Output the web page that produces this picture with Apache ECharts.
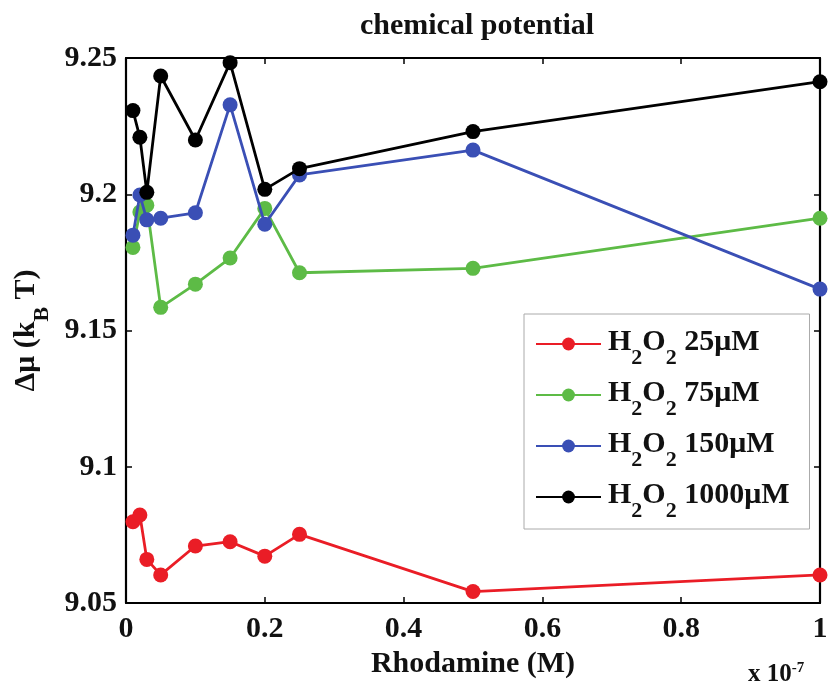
<!DOCTYPE html>
<html>
<head>
<meta charset="utf-8">
<script src="https://cdn.jsdelivr.net/npm/echarts@6/dist/echarts.min.js"></script>
<style>
  html, body { margin: 0; padding: 0; background: #fff; }
  #chart { width: 829px; height: 687px; }
</style>
</head>
<body>
<div id="chart"></div>
<script>
// Rhodamine concentration (units of 1e-7 M)
const rhodamine = [0.01, 0.02, 0.03, 0.05, 0.10, 0.15, 0.20, 0.25, 0.50, 1.00];

// Chemical potential difference (kBT) for each H2O2 concentration
const mu25   = [9.0798, 9.0823, 9.0660, 9.0603, 9.0709, 9.0725, 9.0672, 9.0752, 9.0542, 9.0603];
const mu75   = [9.1805, 9.1935, 9.1960, 9.1585, 9.1670, 9.1766, 9.1948, 9.1712, 9.1728, 9.1912];
const mu150  = [9.1850, 9.1997, 9.1906, 9.1912, 9.1932, 9.2328, 9.1890, 9.2071, 9.2162, 9.1652];
const mu1000 = [9.2307, 9.2209, 9.2007, 9.2434, 9.2199, 9.2483, 9.2018, 9.2094, 9.2230, 9.2413];

const concentrations = ['25μM', '75μM', '150μM', '1000μM'];
const seriesValues = [mu25, mu75, mu150, mu1000];
const colors = ['#ea1d26', '#5dbb46', '#3a4fb5', '#000000'];

const FONT = '"Liberation Serif", "Times New Roman", serif';
const seriesNames = concentrations.map(c => 'H2O2 ' + c);

const chart = echarts.init(document.getElementById('chart'));

const series = seriesValues.map((vals, i) => ({
  name: seriesNames[i],
  type: 'line',
  data: rhodamine.map((x, j) => [x, vals[j]]),
  symbol: 'circle',
  symbolSize: 15,
  showSymbol: true,
  itemStyle: { color: colors[i] },
  lineStyle: { color: colors[i], width: 2.8 },
  xAxisIndex: 0,
  yAxisIndex: 0,
  z: 2 + i
}));

// bold serif text with subscripts (sub shifted down by half its top padding)
const richLabel = {
  n: { fontFamily: FONT, fontWeight: 'bold', fontSize: 30, color: '#111', lineHeight: 34, padding: [0, 0, 4, 0], verticalAlign: 'middle' },
  s: { fontFamily: FONT, fontWeight: 'bold', fontSize: 22, color: '#111', lineHeight: 22, padding: [28, 0, 0, 0], verticalAlign: 'middle' }
};

const frameAxis = {
  axisLine: { show: true, onZero: false, lineStyle: { color: '#000', width: 2.2 } },
  axisTick: { show: true, inside: true, length: 6, lineStyle: { color: '#000', width: 1.5 } },
  splitLine: { show: false }
};

const tickFont = { fontFamily: FONT, fontWeight: 'bold', fontSize: 30, color: '#111' };

chart.setOption({
  animation: false,
  backgroundColor: '#fff',
  title: {
    text: 'chemical potential',
    left: 472,
    textAlign: 'center',
    top: 6,
    textStyle: { fontFamily: FONT, fontWeight: 'bold', fontSize: 30, color: '#111' }
  },
  grid: { left: 126, right: 9, top: 58, bottom: 84, containLabel: false, outerBoundsMode: 'none' },
  xAxis: [
    Object.assign({
      type: 'value', min: 0, max: 1, interval: 0.2, position: 'bottom',
      name: 'Rhodamine (M)', nameLocation: 'middle', nameGap: 42,
      nameTextStyle: tickFont,
      axisLabel: Object.assign({ margin: 11 }, tickFont)
    }, frameAxis),
    Object.assign({
      type: 'value', min: 0, max: 1, interval: 0.2, position: 'top',
      axisLabel: { show: false }
    }, frameAxis)
  ],
  yAxis: [
    Object.assign({
      type: 'value', min: 9.05, max: 9.25, interval: 0.05, position: 'left',
      name: '{n|Δμ (k}{s|B}{n| T)}', nameLocation: 'middle', nameGap: 70, nameRotate: 90,
      nameTextStyle: { rich: richLabel },
      axisLabel: Object.assign({ margin: 9 }, tickFont)
    }, frameAxis),
    Object.assign({
      type: 'value', min: 9.05, max: 9.25, interval: 0.05, position: 'right',
      axisLabel: { show: false }
    }, frameAxis)
  ],
  legend: {
    orient: 'vertical',
    left: 524,
    top: 314,
    padding: [5, 20, 7, 11],
    itemGap: 1,
    itemWidth: 65,
    itemHeight: 16,
    borderColor: '#aaa',
    borderWidth: 1,
    backgroundColor: '#fff',
    data: seriesNames,
    formatter: name => {
      const conc = name.replace('H2O2 ', '');
      return '{n|H}{s|2}{n|O}{s|2}{n|\u00a0' + conc + '}';
    },
    textStyle: { rich: richLabel, padding: [0, 0, 0, 2] }
  },
  graphic: [{
    type: 'text',
    left: 748,
    top: 661,
    style: {
      text: '{a|x 10}{b|-7}',
      rich: {
        a: { fontFamily: FONT, fontWeight: 'bold', fontSize: 25, fill: '#111', verticalAlign: 'bottom', lineHeight: 26 },
        b: { fontFamily: FONT, fontWeight: 'bold', fontSize: 15, fill: '#111', verticalAlign: 'top', lineHeight: 16 }
      }
    }
  }],
  series: series
});
</script>
</body>
</html>
